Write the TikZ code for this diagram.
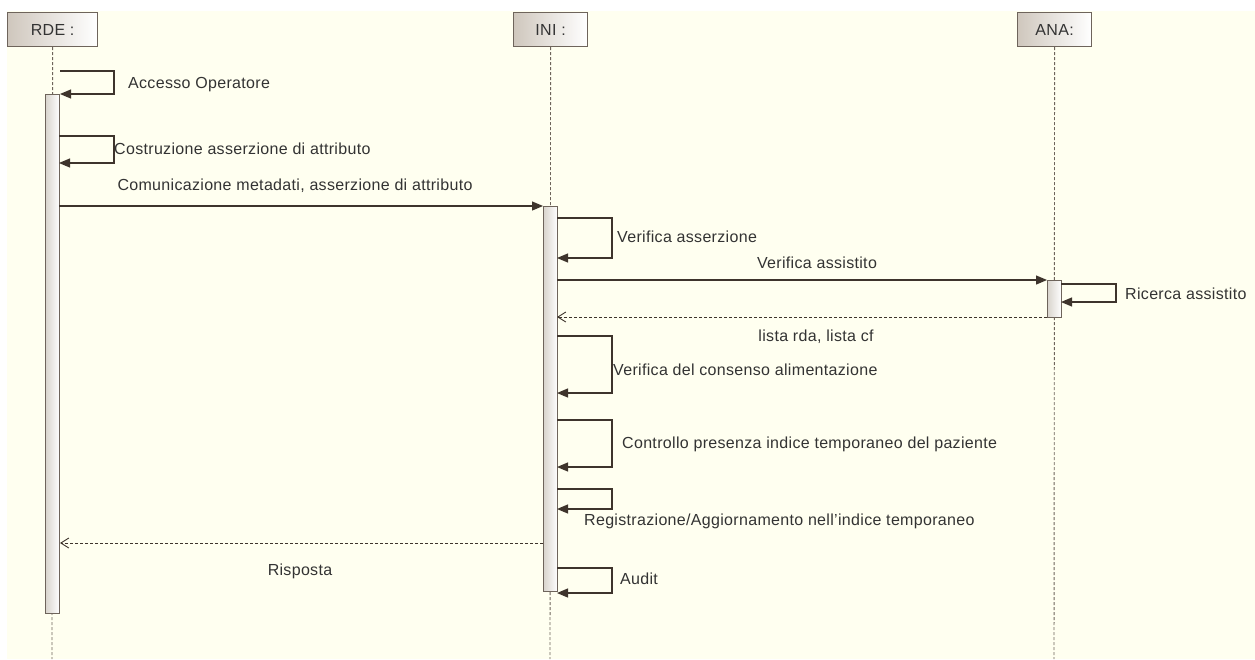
\documentclass[tikz,border=0pt]{standalone}
\usepackage{fontspec}
\setmainfont{Liberation Sans}[LetterSpace=2]
\usetikzlibrary{arrows.meta}
\definecolor{bg}{HTML}{FFFFF0}
\definecolor{ln}{HTML}{3E342C}
\definecolor{bd}{HTML}{6E645B}
\definecolor{tx}{HTML}{333333}
\definecolor{hdL}{HTML}{CFC7BD}
\definecolor{barL}{HTML}{D9D4CD}
\tikzset{
  x=1pt, y=-1pt,
  every node/.style={font=\fontsize{16}{18}\selectfont, text=tx, inner sep=0pt},
  header/.style={draw=bd, line width=1.2pt, left color=hdL, right color=white, minimum height=34pt, anchor=north west},
  actbar/.style={draw=bd, line width=1pt, left color=barL, right color=white, anchor=north west, minimum width=14pt},
  lifeline/.style={draw=bd, line width=0.9pt, dash pattern=on 3pt off 2pt},
  msg/.style={draw=ln, line width=1.2pt, -{Triangle[length=11pt,width=9pt]}},
  selfmsg/.style={draw=ln, line width=1.2pt, -{Triangle[length=11pt,width=9pt]}},
  ret/.style={draw=ln, line width=0.9pt, dash pattern=on 3pt off 2pt, -{Straight Barb[length=8pt,width=10pt,line width=0.9pt]}},
  lbl/.style={anchor=west},
  clbl/.style={anchor=center}
}
\begin{document}
\begin{tikzpicture}
\useasboundingbox (0,0) rectangle (1255,659);
\fill[bg] (7,11) rectangle (1255,659);
% headers
\node[header, minimum width=90pt] (rde) at (7,12) {RDE :};
\node[header, minimum width=74pt] (ini) at (513,12) {INI :};
\node[header, minimum width=74pt] (ana) at (1017,12) {ANA:};
% lifeline ends
\coordinate (rdeEnd) at (52,659);
\coordinate (iniEnd) at (550,659);
\coordinate (anaEnd) at (1054,659);
\draw[lifeline] (rde.south) -- (rdeEnd);
\draw[lifeline] (ini.south) -- (iniEnd);
\draw[lifeline] (ana.south) -- (anaEnd);
% activation bars
\node[actbar, minimum height=519pt] (rdeAct) at (45,94) {};
\node[actbar, minimum height=385pt] (iniAct) at (543,206) {};
\node[actbar, minimum height=37pt] (anaAct) at (1047,280) {};
% Accesso Operatore
\coordinate (a1) at (60,71);
\coordinate (a2) at (60,94);
\draw[selfmsg] (a1) -- (114,71) -- (114,94) -- (a2);
\node[lbl] (tAccesso) at (128,85) {Accesso Operatore};
% Costruzione
\coordinate (c1) at (59,136);
\coordinate (c2) at (59,163);
\draw[selfmsg] (c1) -- (114,136) -- (114,163) -- (c2);
\node[lbl] (tCostr) at (114,149) {Costruzione asserzione di attributo};
% Comunicazione
\coordinate (m1s) at (59,206);
\coordinate (m1e) at (543,206);
\draw[msg] (m1s) -- (m1e);
\node[clbl] (tCom) at (295,186) {Comunicazione metadati, asserzione di attributo};
% Verifica asserzione
\coordinate (v1) at (557,218);
\coordinate (v2) at (557,258);
\draw[selfmsg] (v1) -- (612,218) -- (612,258) -- (v2);
\node[lbl] (tVerA) at (617,237) {Verifica asserzione};
% Verifica assistito
\coordinate (m2s) at (557,280);
\coordinate (m2e) at (1047,280);
\draw[msg] (m2s) -- (m2e);
\node[clbl] (tVerAss) at (817,263) {Verifica assistito};
% Ricerca assistito
\coordinate (r1) at (1061,284);
\coordinate (r2) at (1061,302);
\draw[selfmsg] (r1) -- (1116,284) -- (1116,302) -- (r2);
\node[lbl] (tRic) at (1125,294) {Ricerca assistito};
% return lista
\coordinate (m3s) at (1047,317);
\coordinate (m3e) at (557,317);
\draw[ret] (m3s) -- (m3e);
\node[clbl] (tLista) at (816,337) {lista rda, lista cf};
% Verifica del consenso
\coordinate (vc1) at (557,336);
\coordinate (vc2) at (557,393);
\draw[selfmsg] (vc1) -- (612,336) -- (612,393) -- (vc2);
\node[lbl] (tCons) at (613,370) {Verifica del consenso alimentazione};
% Controllo
\coordinate (k1) at (557,420);
\coordinate (k2) at (557,467);
\draw[selfmsg] (k1) -- (612,420) -- (612,467) -- (k2);
\node[lbl] (tCtrl) at (622,444) {Controllo presenza indice temporaneo del paziente};
% Registrazione
\coordinate (g1) at (557,489);
\coordinate (g2) at (557,509);
\draw[selfmsg] (g1) -- (612,489) -- (612,509) -- (g2);
\node[lbl] (tReg) at (584,521) {Registrazione/Aggiornamento nell'indice temporaneo};
% Risposta
\coordinate (m4s) at (543,543);
\coordinate (m4e) at (60,543);
\draw[ret] (m4s) -- (m4e);
\node[clbl] (tRisp) at (300,571) {Risposta};
% Audit
\coordinate (au1) at (557,568);
\coordinate (au2) at (557,593);
\draw[selfmsg] (au1) -- (612,568) -- (612,593) -- (au2);
\node[lbl] (tAudit) at (620,579) {Audit};
\end{tikzpicture}
\end{document}
